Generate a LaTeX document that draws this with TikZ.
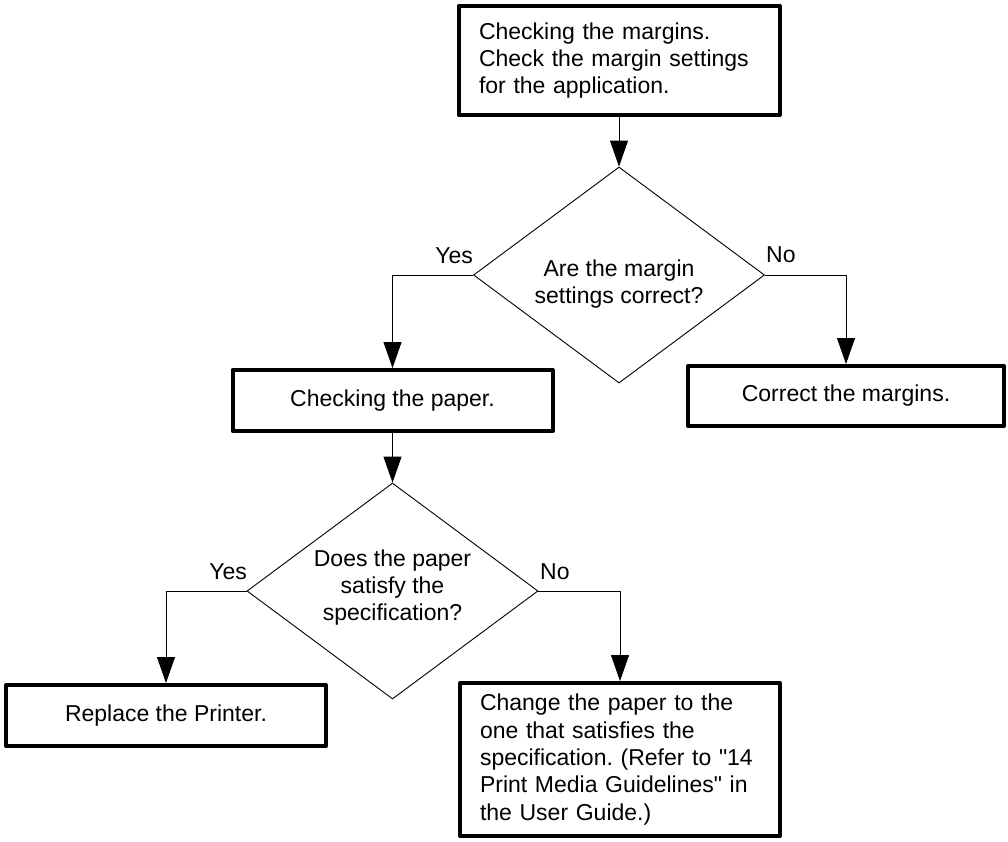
\documentclass[tikz,border=0pt]{standalone}
\usepackage{fontspec}
\setmainfont{Liberation Sans}
\frenchspacing
\usetikzlibrary{arrows.meta,shapes.geometric}
\begin{document}
\begin{tikzpicture}[x=1pt,y=-1pt,
  every node/.style={font=\fontsize{23}{27.3}\selectfont},
  process/.style={draw, line width=4pt, line join=round, minimum width=320pt,
    minimum height=61pt, inner sep=0pt},
  textbox/.style={process, text width=280pt, align=left},
  decision/.style={diamond, draw, line width=0.9pt, minimum width=291pt,
    minimum height=216pt, inner sep=0pt},
  question/.style={align=center, inner sep=0pt},
  flow/.style={line width=0.9pt, -{Triangle[length=26pt,width=18pt]}},
  answer/.style={inner sep=0pt}
]
\useasboundingbox (0,0) rectangle (1008,841);

% steps and decisions
\node[textbox, minimum width=321pt, minimum height=109pt] (b1) at (619,60.5)
  {Checking the margins.\\Check the margin settings\\for the application.};
\node[decision] (d1) at (619,275) {};
\node[question] (q1) at (619,284) {Are the margin\\settings correct?};
\node[process] (b2) at (392.5,400.5) {Checking the paper.};
\node[process, minimum width=316pt, minimum height=60pt] (b3) at (846,396)
  {Correct the margins.};
\node[decision] (d2) at (392.5,591) {};
\node[question] (q2) at (392.5,587.5)
  {Does the paper\\satisfy the\\specification?};
\node[process] (b4) at (166,715.5) {Replace the Printer.};
\node[textbox, minimum height=153pt] (b5) at (620,759.5)
  {Change the paper to the\\one that satisfies the\\specification. (Refer to \textquotedbl14\\Print Media Guidelines\textquotedbl{} in\\the User Guide.)};

% branch labels
\node[answer, anchor=south east] (y1) at (473,264) {Yes};
\node[answer, anchor=south west] (n1) at (766,263) {No};
\node[answer, anchor=south east] (y2) at (247,580) {Yes};
\node[answer, anchor=south west] (n2) at (540,580) {No};

% connectors
\draw[flow] (b1.south) -- (d1.north);
\draw[flow] (d1.west) -| (b2.north);
\draw[flow] (d1.east) -| (b3.north);
\draw[flow] (b2.south) -- (d2.north);
\draw[flow] (d2.west) -| (b4.north);
\draw[flow] (d2.east) -| (b5.north);
\end{tikzpicture}
\end{document}
